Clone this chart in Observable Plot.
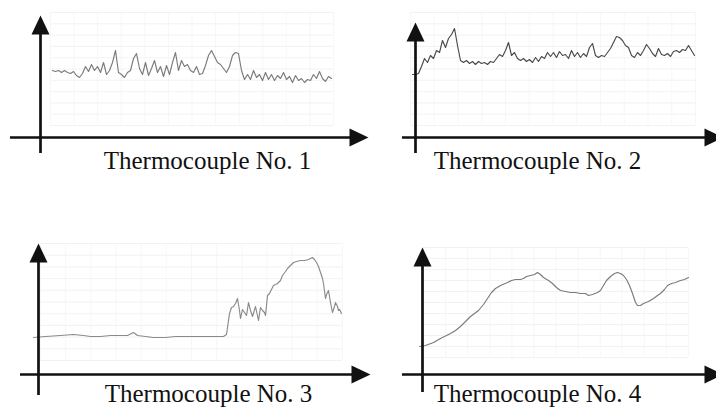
<!DOCTYPE html>
<html>
<head>
<meta charset="utf-8">
<script src="https://cdn.jsdelivr.net/npm/d3@7"></script>
<script src="https://cdn.jsdelivr.net/npm/@observablehq/plot@0.6"></script>
<style>
  html, body { margin: 0; padding: 0; background: #fff; }
  #chart { position: relative; width: 716px; height: 407px; overflow: hidden; background: #fff; }
  #chart svg { position: absolute; left: 0; top: 0; }
</style>
</head>
<body>
<div id="chart"></div>
<script>
// ---- Data (temperature readings, arbitrary units above the time axis) ----
const labels = ["Thermocouple No. 1", "Thermocouple No. 2", "Thermocouple No. 3", "Thermocouple No. 4"];

// Thermocouple 1: evenly spaced samples
const tc1Temp = [
  67,66,67,65,67,65,64,66,62,60,
  64,71,66,73,67,71,65,75,63,67,
  75,87,65,63,60,65,67,79,84,69,
  63,75,62,69,77,65,71,61,72,63,
  75,85,67,77,71,73,67,65,71,63,
  64,72,82,87,81,75,73,69,65,71,
  82,85,84,67,58,63,58,67,60,63,
  57,65,58,63,57,62,59,65,58,61,
  55,62,57,59,55,58,57,63,59,66,
  59,56,61,59
];

// Thermocouple 2: evenly spaced samples
const tc2Temp = [
  63,63,64,71,79,75,82,79,87,85,
  97,90,99,103,109,92,77,75,77,74,
  76,73,76,74,75,73,76,75,79,83,
  81,87,95,82,85,79,77,79,76,78,
  75,80,76,81,79,85,81,85,80,86,
  82,83,79,87,81,85,80,84,81,90,
  94,82,80,82,81,85,89,95,101,100,
  97,92,90,82,80,85,82,87,93,89,
  84,81,89,83,82,84,81,86,87,85,
  88,87,92,87,82
];

// Thermocouple 3: time / temperature pairs
const tc3Time = [
  -5,7,22,35,45,52,62,72,82,89,
  95,99,107,115,127,137,149,162,175,185,
  188,189,191,193,195,197,199,201,202,204,
  206,208,210,212,214,217,220,222,224,226,
  227,229,231,233,235,239,242,244,247,249,
  252,255,258,262,266,270,272,274,276,278,
  280,282,284,285,287,288,290,292,294,296,
  297,299,300,301,303
];
const tc3Temp = [
  37,38,39,40,39,38,38,39,39,39,
  42,39,38,37,37,38,38,38,38,38,
  40,47,61,67,68,71,76,64,56,65,
  62,59,72,64,58,68,54,67,64,62,
  59,79,81,85,89,91,94,99,103,106,
  109,112,113,114,114,115,116,117,115,112,
  108,102,96,91,76,80,84,72,62,68,
  72,68,64,65,61
];

// Thermocouple 4: time / temperature pairs
const tc4Time = [
  -3,3,11,18,28,33,38,43,48,52,
  56,61,65,69,73,78,85,89,93,98,
  101,104,108,112,115,118,121,126,130,134,
  138,143,148,153,158,163,166,170,175,178,
  181,184,188,192,195,198,201,204,207,210,
  213,215,218,221,226,231,235,238,242,245,
  249,253,258,262,266
];
const tc4Temp = [
  28,29,32,36,41,44,48,53,58,61,
  64,70,76,82,86,89,92,94,95,95,
  96,98,99,100,102,100,97,94,91,87,
  84,83,82,82,81,81,79,80,82,84,
  89,94,98,101,102,101,99,95,89,81,
  72,69,69,71,73,76,79,81,85,89,
  91,92,94,95,97
];

// ---- Layout (pixel placement of each panel) ----
const panels = [
  {label: labels[0], temps: tc1Temp, lead: 4, pxPerX: 3,
   ox: 40, oy: 137, xLeft: 10, xTip: 368, yTip: 15, yBottom: 153,
   grid: [50, 333, 12, 125], labelX: 207, baseline: 168, stroke: "#7b7b7b"},
  {label: labels[1], temps: tc2Temp, lead: -1, pxPerX: 3,
   ox: 415, oy: 137, xLeft: 402, xTip: 723, yTip: 22, yBottom: 153,
   grid: [410, 695, 12, 125], labelX: 537, baseline: 168, stroke: "#4a4a4a"},
  {label: labels[2], temps: tc3Temp, times: tc3Time, pxPerX: 1,
   ox: 38, oy: 374, xLeft: 20, xTip: 370, yTip: 243, yBottom: 395,
   grid: [40, 342, 243, 360], labelX: 208, baseline: 401, stroke: "#8a8a8a"},
  {label: labels[3], temps: tc4Temp, times: tc4Time, pxPerX: 1,
   ox: 422, oy: 374, xLeft: 402, xTip: 723, yTip: 247, yBottom: 392,
   grid: [423, 688, 247, 357], labelX: 537, baseline: 401, stroke: "#7b7b7b"}
];

// Filled arrowhead with its tip at the anchor point, pointing up
const arrowHead = {
  draw(ctx) { ctx.moveTo(0, 0); ctx.lineTo(-9, 19); ctx.lineTo(9, 19); ctx.closePath(); }
};

const chart = document.getElementById("chart");

for (const p of panels) {
  const toX = px => (px - p.ox) / p.pxPerX;
  const toY = py => p.oy - py;
  const xMax = toX(p.xTip), yMax = toY(p.yTip);
  const rows = p.temps.map((v, i) => ({t: p.times ? p.times[i] : p.lead + i, v}));

  const [gx0, gx1, gy0, gy1] = p.grid;
  const hGrid = d3.range(gy0, gy1 + 0.1, (gy1 - gy0) / 10).map(toY);
  const vGrid = d3.range(gx0, gx1 + 0.1, (gx1 - gx0) / 12).map(toX);

  const svg = Plot.plot({
    width: 716,
    height: 407,
    margin: 0,
    x: {domain: [0, xMax], range: [p.ox, p.xTip], axis: null},
    y: {domain: [0, yMax], range: [p.oy, p.yTip], axis: null},
    style: {background: "transparent", overflow: "visible"},
    marks: [
      Plot.ruleY(hGrid, {x1: toX(gx0), x2: toX(gx1), stroke: "#efefef", strokeWidth: 0.8}),
      Plot.ruleX(vGrid, {y1: toY(gy1), y2: toY(gy0), stroke: "#f5f5f5", strokeWidth: 0.8}),
      Plot.line(rows, {x: "t", y: "v", stroke: p.stroke, strokeWidth: 1.15, strokeLinejoin: "round"}),
      Plot.ruleX([0], {y1: toY(p.yBottom), y2: yMax - 12, stroke: "#111", strokeWidth: 2.7}),
      Plot.ruleY([0], {x1: toX(p.xLeft), x2: xMax - 12 / p.pxPerX, stroke: "#111", strokeWidth: 2.7}),
      Plot.dot([{x: 0, y: yMax}], {x: "x", y: "y", symbol: arrowHead, fill: "#111", stroke: null}),
      Plot.dot([{x: xMax, y: 0}], {x: "x", y: "y", symbol: arrowHead, rotate: 90, fill: "#111", stroke: null}),
      Plot.text([p.label], {
        x: toX(p.labelX), y: toY(p.baseline), text: d => d,
        textAnchor: "middle", lineAnchor: "bottom",
        fontFamily: "Liberation Serif, Times New Roman, serif", fontSize: 25, fill: "#111"
      })
    ]
  });
  chart.appendChild(svg);
}
</script>
</body>
</html>
